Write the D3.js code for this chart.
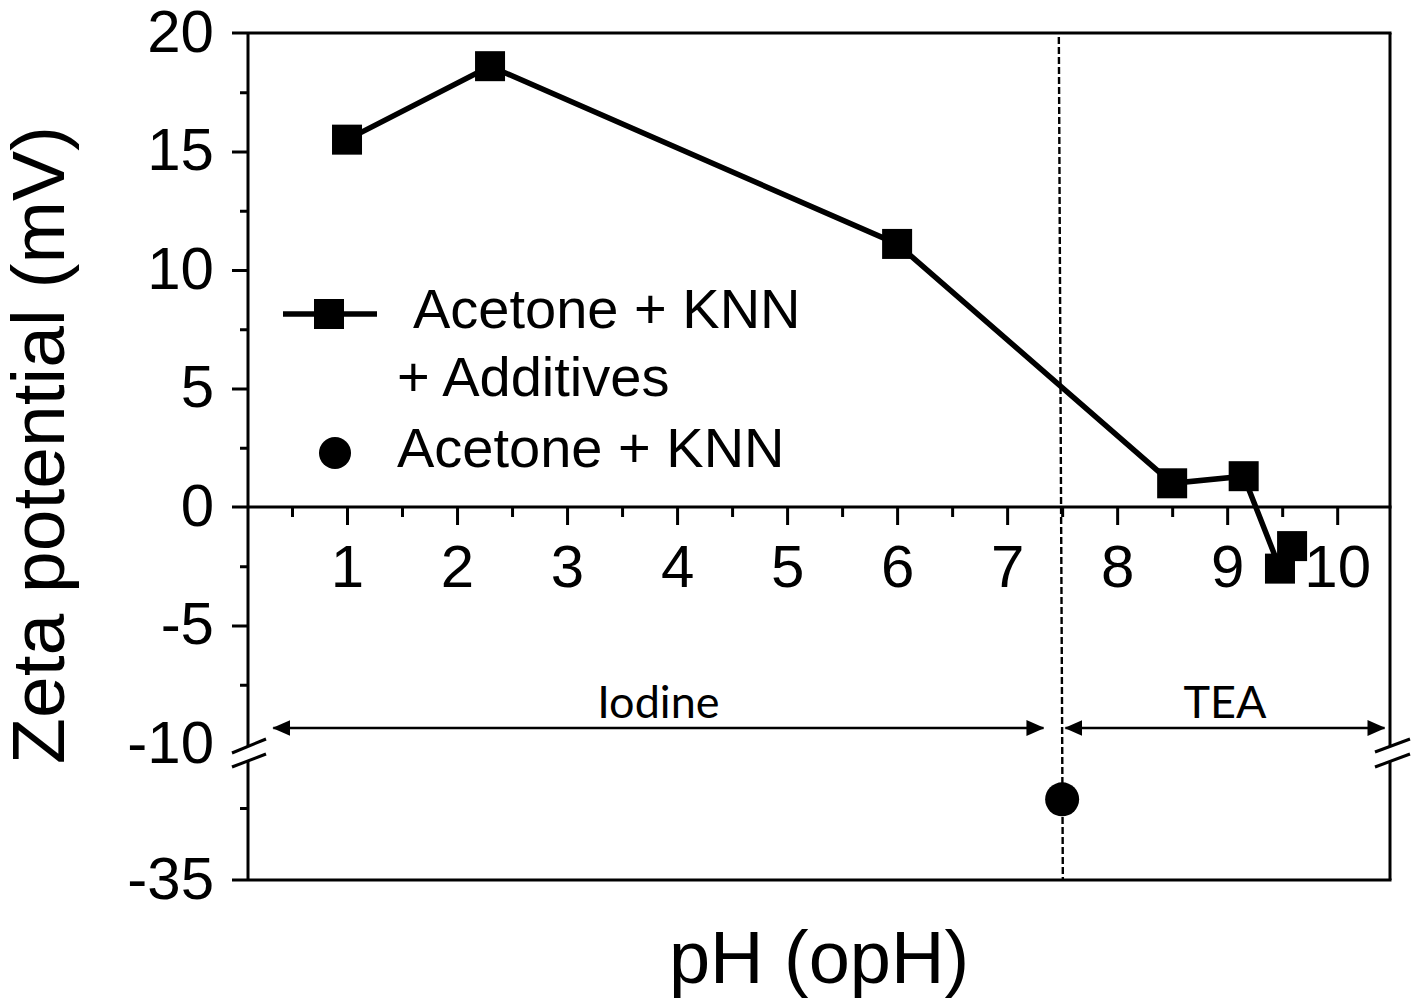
<!DOCTYPE html>
<html><head><meta charset="utf-8">
<script src="https://cdn.jsdelivr.net/npm/d3@7"></script>
<style>body{margin:0;background:#fff}svg{display:block}</style>
</head><body>
<svg id="c" width="1417" height="1006"></svg>
<script>
// Data
const seriesName1 = ["Acetone + KNN", "+ Additives"];
const seriesName2 = "Acetone + KNN";
const phAdd = [1.0, 2.3, 6.0, 8.5, 9.15, 9.48, 9.59];
const zetaAdd = [15.5, 18.6, 11.1, 1.0, 1.3, -2.6, -1.65];
const phPlain = [7.5];
const zetaPlain = [-29.4];
const xTicks = [1,2,3,4,5,6,7,8,9,10];
const xMinor = [0.5,1.5,2.5,3.5,4.5,5.5,6.5,7.5,8.5,9.5];
const yTicksTop = [20,15,10,5,0,-5];
const yMinorTop = [17.5,12.5,7.5,2.5,-2.5,-7.5];
const yLabelBreak = [-10];
const yTicksBot = [-35];
const yMinorBot = [-30];
const regionDivider = 7.47;
const regions = [{name:"Iodine", from:0.33, to:7.33}, {name:"TEA", from:7.53, to:10.43}];

const svg = d3.select("#c");
const L = 248, R = 1390, T = 33, B = 880;
const x = d3.scaleLinear().domain([0.1, 10.48]).range([L, R]);
const yT = d3.scaleLinear().domain([0, 20]).range([507, 33]);
const yB = d3.scaleLinear().domain([-35, -30]).range([880, 808]);
const y = v => v >= -10.3 ? yT(v) : yB(v);
const font = "'Liberation Sans', Arial, sans-serif";
const fmt = v => String(v);

const g = svg.append("g");
function line(x1,y1,x2,y2,w){return g.append("line").attr("x1",x1).attr("y1",y1).attr("x2",x2).attr("y2",y2).attr("stroke","#000").attr("stroke-width",w||3);}
line(232, T, R+1.5, T);
line(232, B, R+1.5, B);
line(L, T, L, 746);
line(L, 760, L, B);
line(R, T, R, 746);
line(R, 761, R, B);
[[232,753,266,739],[232,767,266,754],[1375,752,1410,739],[1375,767,1410,754]].forEach(d=>line(d[0],d[1],d[2],d[3],3));

function yAxis(scale, vals, size, labels){
  const a = d3.axisLeft(scale).tickValues(vals).tickSize(size).tickPadding(30 - size + 4).tickFormat(labels ? fmt : "");
  const ga = svg.append("g").attr("transform",`translate(${L},0)`).call(a);
  ga.select(".domain").remove();
  ga.selectAll("line").attr("stroke","#000").attr("stroke-width",3);
  ga.selectAll("text").attr("font-family",font).attr("font-size",60).attr("fill","#000").attr("dy","0.3em");
  return ga;
}
yAxis(yT, yTicksTop.filter(v=>v!==20 && v!==0), 16, true);
yAxis(yT, [20, 0], 16, true).selectAll("line").remove();
yAxis(yT, yMinorTop, 8, false);
yAxis(yT, yLabelBreak, 16, true).selectAll("line").remove();
yAxis(yB, yTicksBot, 16, true).selectAll("line").remove();
yAxis(yB, yMinorBot, 8, false);

line(232, yT(0), R+1.5, yT(0));
function xAxis(vals, size, labels){
  const a = d3.axisBottom(x).tickValues(vals).tickSize(size).tickPadding(17).tickFormat(labels ? fmt : "");
  const ga = svg.append("g").attr("transform",`translate(0,${yT(0)})`).call(a);
  ga.select(".domain").remove();
  ga.selectAll("line").attr("stroke","#000").attr("stroke-width",3);
  ga.selectAll("text").attr("font-family",font).attr("font-size",60).attr("fill","#000").attr("dy","0.75em");
}
xAxis(xTicks, 18, true);
xAxis(xMinor, 10, false);

svg.append("line").attr("x1",x(regionDivider)).attr("x2",x(regionDivider)+4).attr("y1",T+4).attr("y2",B)
  .attr("stroke","#000").attr("stroke-width",2.4).attr("stroke-dasharray","7,3");

const defs = svg.append("defs");
defs.append("marker").attr("id","ah").attr("viewBox","0 0 18 16").attr("refX",17).attr("refY",8)
  .attr("markerWidth",18).attr("markerHeight",16).attr("markerUnits","userSpaceOnUse").attr("orient","auto-start-reverse")
  .append("path").attr("d","M0,0 L18,8 L0,16 Z").attr("fill","#000");
regions.forEach(r=>{
  svg.append("line").attr("x1",x(r.from)).attr("x2",x(r.to)).attr("y1",728).attr("y2",728)
    .attr("stroke","#000").attr("stroke-width",2.5)
    .attr("marker-start","url(#ah)").attr("marker-end","url(#ah)");
  svg.append("text").attr("x",(x(r.from)+x(r.to))/2).attr("y",718).attr("text-anchor","middle")
    .attr("font-family","Lato, 'Open Sans', sans-serif").attr("font-size",45).attr("fill","#000").text(r.name);
});

const pts = phAdd.map((p,i)=>[p, zetaAdd[i]]);
svg.append("path").datum(pts).attr("d", d3.line().x(d=>x(d[0])).y(d=>y(d[1])))
  .attr("fill","none").attr("stroke","#000").attr("stroke-width",5.5);
svg.selectAll("rect.pt").data(pts).join("rect").attr("class","pt")
  .attr("x",d=>x(d[0])-15).attr("y",d=>y(d[1])-15).attr("width",30).attr("height",30).attr("fill","#000");
svg.selectAll("circle.pt").data(phPlain.map((p,i)=>[p,zetaPlain[i]])).join("circle").attr("class","pt")
  .attr("cx",d=>x(d[0])).attr("cy",d=>y(d[1])).attr("r",17).attr("fill","#000");

svg.append("line").attr("x1",283).attr("x2",377).attr("y1",314).attr("y2",314).attr("stroke","#000").attr("stroke-width",5.5);
svg.append("rect").attr("x",314).attr("y",299).attr("width",30).attr("height",30).attr("fill","#000");
svg.append("text").attr("x",413).attr("y",328).attr("font-family",font).attr("font-size",56).text(seriesName1[0]);
svg.append("text").attr("x",397).attr("y",396).attr("font-family",font).attr("font-size",56).text(seriesName1[1]);
svg.append("circle").attr("cx",335).attr("cy",453).attr("r",16).attr("fill","#000");
svg.append("text").attr("x",397).attr("y",467).attr("font-family",font).attr("font-size",56).text(seriesName2);

svg.append("text").attr("x",819).attr("y",983).attr("text-anchor","middle").attr("font-family",font).attr("font-size",74).text("pH (opH)");
svg.append("text").attr("transform","translate(64,445) rotate(-90)").attr("text-anchor","middle").attr("font-family",font).attr("font-size",75).text("Zeta potential (mV)");
</script>
</body></html>
